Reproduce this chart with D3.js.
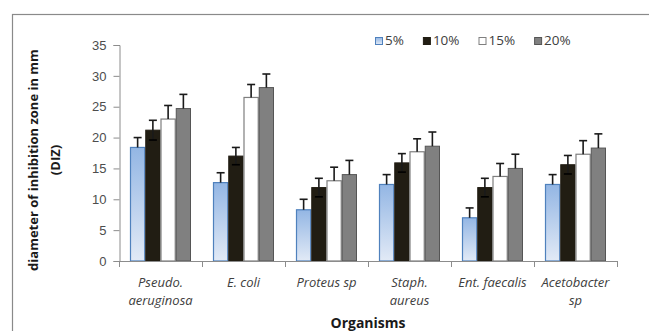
<!DOCTYPE html>
<html>
<head>
<meta charset="utf-8">
<script src="https://cdn.jsdelivr.net/npm/d3@7"></script>
<style>
  body { margin: 0; background: #fff; }
  svg { display: block; font-family: "Open Sans", sans-serif; }
</style>
</head>
<body>
<div id="chart"></div>
<script>
// organisms on the x axis (each can be split over two lines)
var organisms = [
  ['Pseudo.', 'aeruginosa'],
  ['E. coli'],
  ['Proteus sp'],
  ['Staph.', 'aureus'],
  ['Ent. faecalis'],
  ['Acetobacter', 'sp']
];
var seriesNames = ['5%', '10%', '15%', '20%'];

// mean diameter of inhibition zone (mm)
var conc5  = [18.4, 12.7, 8.3, 12.4, 7.0, 12.4];
var conc10 = [21.2, 17.0, 11.9, 15.9, 11.9, 15.6];
var conc15 = [23.0, 26.5, 13.0, 17.7, 13.7, 17.3];
var conc20 = [24.7, 28.1, 14.0, 18.6, 15.0, 18.3];

// error bar size
var err5  = [1.6, 1.6, 1.7, 1.6, 1.6, 1.6];
var err10 = [1.6, 1.4, 1.5, 1.5, 1.5, 1.5];
var err15 = [2.2, 2.1, 2.2, 2.1, 2.1, 2.2];
var err20 = [2.3, 2.2, 2.3, 2.3, 2.3, 2.3];

var yTicks = [0, 5, 10, 15, 20, 25, 30, 35];

var seriesValues = [conc5, conc10, conc15, conc20];
var seriesErrors = [err5, err10, err15, err20];

var fills = ['url(#blueGrad)', '#211d13', '#ffffff', '#808080'];
var strokes = ['#4f81bd', '#211d13', '#7f7f7f', '#555555'];
var strokeW = [1.2, 1, 1.2, 1];
var bothWays = [false, true, false, false];

var W = 649, H = 331;
var plotLeft = 119, plotRight = 617, plotTop = 45, plotBottom = 261;

var svg = d3.select('#chart').append('svg')
    .attr('width', W)
    .attr('height', H);

var defs = svg.append('defs');
var grad = defs.append('linearGradient')
    .attr('id', 'blueGrad')
    .attr('x1', 0).attr('y1', 0).attr('x2', 0).attr('y2', 1);
grad.append('stop').attr('offset', '0%').attr('stop-color', '#93b6e4');
grad.append('stop').attr('offset', '100%').attr('stop-color', '#e2eaf6');

// outer chart frame
svg.append('rect')
    .attr('x', 12.5).attr('y', 14.5)
    .attr('width', 700).attr('height', 400)
    .attr('fill', 'none')
    .attr('stroke', '#8a8a8a')
    .attr('stroke-width', 1.2);

var x0 = d3.scaleBand()
    .domain(d3.range(organisms.length))
    .range([plotLeft, plotRight])
    .paddingInner(0.265)
    .paddingOuter(0.1325);

var x1 = d3.scaleBand()
    .domain(d3.range(seriesNames.length))
    .range([0, x0.bandwidth()]);

var y = d3.scaleLinear()
    .domain([0, 35])
    .range([plotBottom, plotTop]);

// y axis
var yAxis = svg.append('g')
    .attr('transform', 'translate(' + (plotLeft + 0.5) + ',0)')
    .call(d3.axisLeft(y).tickValues(yTicks).tickSize(6).tickPadding(7).tickFormat(d3.format('d')));
yAxis.select('.domain').attr('stroke', '#8c8c8c');
yAxis.selectAll('.tick line').attr('stroke', '#8c8c8c');
yAxis.selectAll('.tick text')
    .attr('fill', '#4d4d4d')
    .style('font-size', '13px');

// bars
var groups = svg.append('g').selectAll('g')
    .data(d3.range(organisms.length))
    .enter().append('g')
    .attr('transform', function(i) { return 'translate(' + x0(i) + ',0)'; });

function barData(i) {
  return seriesNames.map(function(s, k) {
    return {k: k, value: seriesValues[k][i], err: seriesErrors[k][i]};
  });
}

groups.selectAll('rect')
    .data(barData)
    .enter().append('rect')
    .attr('x', function(d) { return x1(d.k) + 0.5; })
    .attr('y', function(d) { return y(d.value); })
    .attr('width', x1.bandwidth() - 1)
    .attr('height', function(d) { return plotBottom - y(d.value); })
    .attr('fill', function(d) { return fills[d.k]; })
    .attr('stroke', function(d) { return strokes[d.k]; })
    .attr('stroke-width', function(d) { return strokeW[d.k]; });

// error bars
var eb = groups.selectAll('g.err')
    .data(barData)
    .enter().append('g')
    .attr('class', 'err')
    .attr('stroke', '#1a1a1a')
    .attr('stroke-width', 1.6);

function cx(d) { return x1(d.k) + x1.bandwidth() / 2; }

eb.append('line')
    .attr('x1', cx)
    .attr('x2', cx)
    .attr('y1', function(d) { return bothWays[d.k] ? y(d.value - d.err) : y(d.value); })
    .attr('y2', function(d) { return y(d.value + d.err); });

eb.append('line')
    .attr('x1', function(d) { return cx(d) - 4; })
    .attr('x2', function(d) { return cx(d) + 4; })
    .attr('y1', function(d) { return y(d.value + d.err); })
    .attr('y2', function(d) { return y(d.value + d.err); });

eb.filter(function(d) { return bothWays[d.k]; }).append('line')
    .attr('stroke', '#000')
    .attr('x1', function(d) { return cx(d) - 4; })
    .attr('x2', function(d) { return cx(d) + 4; })
    .attr('y1', function(d) { return y(d.value - d.err); })
    .attr('y2', function(d) { return y(d.value - d.err); });

// x axis with ticks between categories
var xAxis = svg.append('g');
xAxis.append('line')
    .attr('x1', plotLeft).attr('x2', plotRight + 0.5)
    .attr('y1', plotBottom + 0.5).attr('y2', plotBottom + 0.5)
    .attr('stroke', '#8c8c8c');
xAxis.selectAll('line.tk')
    .data(d3.range(organisms.length + 1))
    .enter().append('line')
    .attr('class', 'tk')
    .attr('x1', function(i) { return Math.round(plotLeft + i * x0.step()) + 0.5; })
    .attr('x2', function(i) { return Math.round(plotLeft + i * x0.step()) + 0.5; })
    .attr('y1', plotBottom)
    .attr('y2', plotBottom + 6)
    .attr('stroke', '#8c8c8c');

var xl = svg.append('g').selectAll('text')
    .data(d3.range(organisms.length))
    .enter().append('text')
    .attr('text-anchor', 'middle')
    .attr('fill', '#404040')
    .style('font-size', '13px')
    .style('font-style', 'italic');
xl.each(function(i) {
  var t = d3.select(this);
  organisms[i].forEach(function(line, j) {
    t.append('tspan')
      .attr('x', x0(i) + x0.bandwidth() / 2)
      .attr('y', 287 + j * 18)
      .text(line);
  });
});

// axis titles
svg.append('text')
    .attr('x', (plotLeft + plotRight) / 2)
    .attr('y', 328)
    .attr('text-anchor', 'middle')
    .attr('fill', '#1a1a1a')
    .style('font-size', '14px')
    .style('font-weight', 'bold')
    .text('Organisms');

var yt = svg.append('text')
    .attr('transform', 'translate(38,160) rotate(-90)')
    .attr('text-anchor', 'middle')
    .attr('fill', '#1a1a1a')
    .style('font-size', '13px')
    .style('font-weight', 'bold');
yt.append('tspan').attr('x', 0).attr('y', 0).text('diameter of inhibition zone in mm');
yt.append('tspan').attr('x', 0).attr('y', 22).text('(DIZ)');

// legend
var legend = svg.append('g').attr('transform', 'translate(375,37)');
var lx = 0;
seriesNames.forEach(function(name, k) {
  var item = legend.append('g').attr('transform', 'translate(' + lx + ',0)');
  item.append('rect')
      .attr('x', 0.5).attr('y', 0.5)
      .attr('width', 7).attr('height', 7)
      .attr('fill', fills[k])
      .attr('stroke', strokes[k]);
  var txt = item.append('text')
      .attr('x', 10)
      .attr('y', 8)
      .attr('fill', '#404040')
      .style('font-size', '13.5px')
      .text(name);
  lx += 10 + txt.node().getComputedTextLength() + 19;
});
</script>
</body>
</html>
